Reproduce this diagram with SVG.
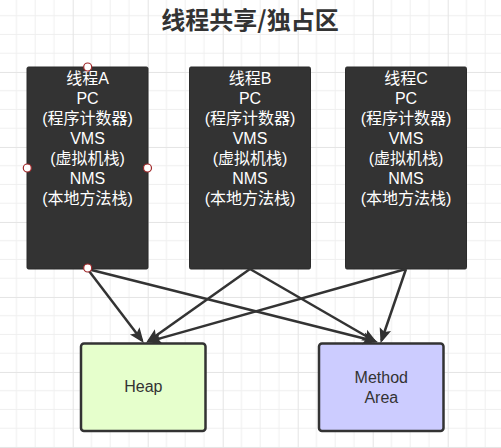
<svg xmlns="http://www.w3.org/2000/svg" width="501" height="448" viewBox="0 0 501 448">
  <defs>
    <pattern id="grid" patternUnits="userSpaceOnUse" x="-2.3" y="-3.05" width="75" height="75">
      <path d="M18.75,0V75M37.5,0V75M56.25,0V75M0,18.75H75M0,37.5H75M0,56.25H75" stroke="#efefef" stroke-width="1" fill="none"/>
      <path d="M0.5,0V75M0,0.5H75" stroke="#e4e4e4" stroke-width="1" fill="none"/>
    </pattern>
    <marker id="arr" markerUnits="userSpaceOnUse" markerWidth="18" markerHeight="14" refX="12" refY="7" orient="auto">
      <path d="M0,1 L15,7 L0,13 L3,7 z" fill="#333333"/>
    </marker>
  </defs>
  <style>
    .thread rect { fill: #333333; stroke: #2b2b2b; stroke-width: 1; }
    .thread text { fill: #ffffff; font-family: "Liberation Sans", "Noto Sans CJK SC", sans-serif; font-size: 16px; text-anchor: middle; }
    .store rect { stroke: #333333; stroke-width: 2.5; }
    .store text { fill: #333333; font-family: "Liberation Sans", "Noto Sans CJK SC", sans-serif; font-size: 16px; text-anchor: middle; }
    .edge { stroke: #333333; stroke-width: 2.5; fill: none; marker-end: url(#arr); }
    .port { fill: #ffffff; stroke: #a0282a; stroke-width: 1.2; }
  </style>
  <rect width="501" height="448" fill="#ffffff"/>
  <rect width="501" height="448" fill="url(#grid)"/>

  <text x="250" y="29" font-family="'Noto Sans CJK SC', sans-serif" font-size="24" font-weight="bold" fill="#333333" text-anchor="middle">线程共享/独占区</text>

  <g id="threadA" class="thread">
    <rect x="27" y="67" width="121" height="202" rx="1.5"/>
    <text x="87.5" y="84">线程A</text>
    <text x="87.5" y="104">PC</text>
    <text x="87.5" y="124">(程序计数器)</text>
    <text x="87.5" y="144">VMS</text>
    <text x="87.5" y="164">(虚拟机栈)</text>
    <text x="87.5" y="184">NMS</text>
    <text x="87.5" y="204">(本地方法栈)</text>
  </g>
  <g id="threadB" class="thread">
    <rect x="189.5" y="67" width="121" height="202" rx="1.5"/>
    <text x="250" y="84">线程B</text>
    <text x="250" y="104">PC</text>
    <text x="250" y="124">(程序计数器)</text>
    <text x="250" y="144">VMS</text>
    <text x="250" y="164">(虚拟机栈)</text>
    <text x="250" y="184">NMS</text>
    <text x="250" y="204">(本地方法栈)</text>
  </g>
  <g id="threadC" class="thread">
    <rect x="345.5" y="67" width="121" height="202" rx="1.5"/>
    <text x="406" y="84">线程C</text>
    <text x="406" y="104">PC</text>
    <text x="406" y="124">(程序计数器)</text>
    <text x="406" y="144">VMS</text>
    <text x="406" y="164">(虚拟机栈)</text>
    <text x="406" y="184">NMS</text>
    <text x="406" y="204">(本地方法栈)</text>
  </g>

  <g id="heap" class="store">
    <rect x="81" y="343.5" width="124.5" height="87.5" rx="3" fill="#e6ffcc"/>
    <text x="143.3" y="392">Heap</text>
  </g>
  <g id="methodArea" class="store">
    <rect x="319" y="343.5" width="124.5" height="87.5" rx="3" fill="#ccccff"/>
    <text x="381.3" y="383">Method</text>
    <text x="381.3" y="403">Area</text>
  </g>

  <g id="connectors">
    <line class="edge" x1="87.5" y1="269" x2="142" y2="340.5"/>
    <line class="edge" x1="87.5" y1="269" x2="375" y2="341.3"/>
    <line class="edge" x1="250" y1="269" x2="148.5" y2="341"/>
    <line class="edge" x1="250" y1="269" x2="374.5" y2="341"/>
    <line class="edge" x1="406" y1="269" x2="149.5" y2="341.4"/>
    <line class="edge" x1="406" y1="269" x2="381.5" y2="340.5"/>
  </g>

  <g id="ports">
    <circle class="port" cx="87.7" cy="67" r="4"/>
    <circle class="port" cx="27.3" cy="168" r="4"/>
    <circle class="port" cx="147.5" cy="168" r="4"/>
    <circle class="port" cx="87.7" cy="268" r="4"/>
  </g>
</svg>
